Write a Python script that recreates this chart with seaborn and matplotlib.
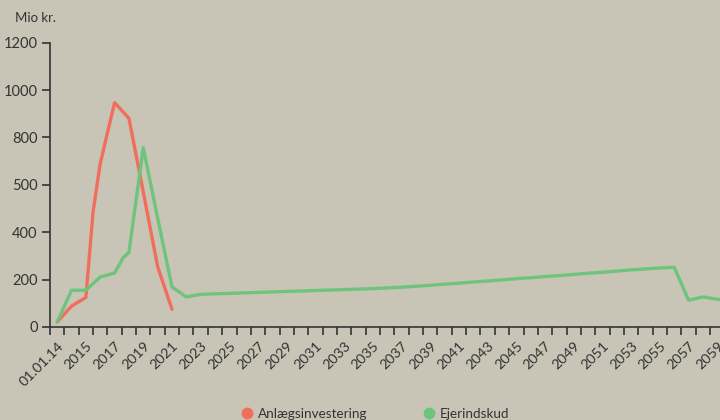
import matplotlib
matplotlib.use("Agg")
import numpy as np
import pandas as pd
import matplotlib.pyplot as plt
import seaborn as sns
from matplotlib.lines import Line2D
from matplotlib.ticker import FixedLocator

# positions on the category axis (0 = first category "01.01.14")
red_x = [0, 1, 2, 2.5, 3, 4, 5, 6, 7, 8]
red_y = [21, 88, 125, 485, 690, 947, 881, 570, 255, 75]

green_x = [0, 1, 2, 3, 4, 4.6, 5, 6, 7, 8, 9, 10, 11, 12, 13, 14, 15, 16, 17, 18,
           19, 20, 21, 22, 23, 24, 25, 26, 27, 28, 29, 30, 31, 32, 33, 34, 35, 36,
           37, 38, 39, 40, 41, 42, 43, 44, 45, 46, 47]
green_y = [21, 155, 155, 211, 228, 292, 315, 757, 460, 169, 127, 138, 140, 142, 144,
           146, 148, 150, 152, 154, 156, 158, 160, 162, 165, 168, 172, 176, 181, 185,
           190, 194, 199, 204, 208, 213, 217, 222, 227, 231, 236, 241, 245, 249, 252,
           113, 127, 117, 117]

x_labels = ["01.01.14", "2015", "2017", "2019", "2021", "2023", "2025", "2027",
            "2029", "2031", "2033", "2035", "2037", "2039", "2041", "2043", "2045",
            "2047", "2049", "2051", "2053", "2055", "2057", "2059"]
y_ticks = [0, 200, 400, 600, 800, 1000, 1200]
y_labels = ["0", "200", "400", "500", "800", "1000", "1200"]

series_names = ["Anlægsinvestering", "Ejerindskud"]
colors = ["#f26e5c", "#6ec47d"]
bg = "#c8c4b6"
ink = "#333333"

df = pd.concat([
    pd.DataFrame({"x": red_x, "y": red_y, "serie": series_names[0]}),
    pd.DataFrame({"x": green_x, "y": green_y, "serie": series_names[1]}),
])

sns.set_theme(style="ticks")
plt.rcParams["font.family"] = ["Lato", "DejaVu Sans"]

fig = plt.figure(figsize=(7.2, 4.2), dpi=100, facecolor=bg)
ax = fig.add_axes([50 / 720, 93 / 420, 670 / 720, (327 - 42.7) / 420])
ax.set_facecolor(bg)

sns.lineplot(data=df, x="x", y="y", hue="serie", palette=colors, linewidth=2.4,
             legend=False, ax=ax, sort=False)

ax.set_xlim(-0.5, 46.19)
ax.set_ylim(0, 1200)

# labels on every second category, tick marks between categories
ax.xaxis.set_major_locator(FixedLocator(np.arange(0, 47, 2)))
ax.set_xticklabels(x_labels, rotation=45, ha="right", rotation_mode="anchor",
                   fontsize=10.3, color=ink)
ax.xaxis.set_minor_locator(FixedLocator(np.arange(-0.5, 47, 1)))
ax.tick_params(axis="x", which="major", length=0, pad=9)
ax.tick_params(axis="x", which="minor", length=6, width=1.2, color=ink)

ax.set_yticks(y_ticks)
ax.set_yticklabels(y_labels, fontsize=10.5, color=ink)
ax.tick_params(axis="y", length=6, width=1.2, color=ink, pad=3)

for side in ["top", "right"]:
    ax.spines[side].set_visible(False)
for side in ["left", "bottom"]:
    ax.spines[side].set_color(ink)
    ax.spines[side].set_linewidth(1.2)

ax.set_xlabel("")
ax.set_ylabel("")

fig.text(15 / 720, 1 - 18 / 420, "Mio kr.", fontsize=9.5, color=ink, va="center")

handles = [Line2D([], [], linestyle="none", marker="o", markersize=7.5,
                  markerfacecolor=c, markeredgecolor=c) for c in colors]
fig.legend(handles, series_names, loc="center", bbox_to_anchor=(0.516, 0.014),
           ncol=2, frameon=False, fontsize=9.7, handletextpad=-0.2,
           columnspacing=3.6, labelcolor=ink)

fig.savefig("out.png", dpi=100, facecolor=bg)
